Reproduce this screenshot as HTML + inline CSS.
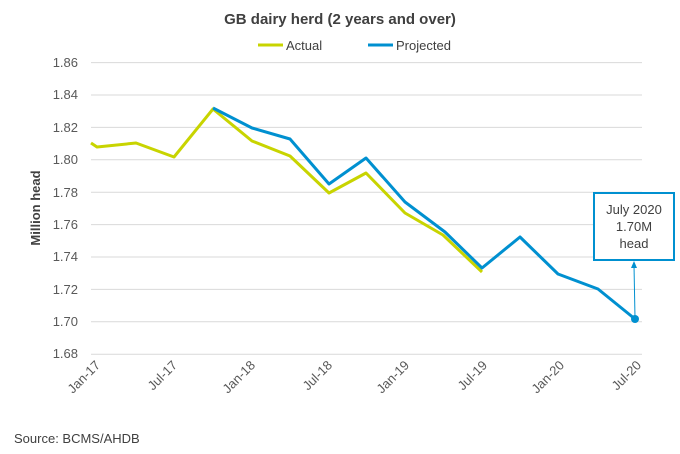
<!DOCTYPE html>
<html><head><meta charset="utf-8"><style>
html,body{margin:0;padding:0;background:#fff}
svg{display:block;font-family:"Liberation Sans",Arial,sans-serif}
</style></head><body>
<svg width="680" height="454" viewBox="0 0 680 454">
<text x="340" y="24" text-anchor="middle" font-size="15" font-weight="bold" fill="#404040">GB dairy herd (2 years and over)</text>
<line x1="258" y1="45" x2="283" y2="45" stroke="#c8d400" stroke-width="3"/>
<text x="286" y="50" font-size="13" fill="#404040">Actual</text>
<line x1="368" y1="45" x2="393" y2="45" stroke="#0090d0" stroke-width="3"/>
<text x="396" y="50" font-size="13" fill="#404040">Projected</text>
<g stroke="#d9d9d9" stroke-width="1">
<line x1="91" y1="62.6" x2="642" y2="62.6"/><line x1="91" y1="95" x2="642" y2="95"/>
<line x1="91" y1="127.4" x2="642" y2="127.4"/><line x1="91" y1="159.8" x2="642" y2="159.8"/>
<line x1="91" y1="192.2" x2="642" y2="192.2"/><line x1="91" y1="224.6" x2="642" y2="224.6"/>
<line x1="91" y1="257" x2="642" y2="257"/><line x1="91" y1="289.4" x2="642" y2="289.4"/>
<line x1="91" y1="321.8" x2="642" y2="321.8"/><line x1="91" y1="354.2" x2="642" y2="354.2"/>
</g>
<g font-size="13" fill="#595959" text-anchor="end">
<text x="78" y="67">1.86</text><text x="78" y="99">1.84</text><text x="78" y="132">1.82</text>
<text x="78" y="164">1.80</text><text x="78" y="197">1.78</text><text x="78" y="229">1.76</text>
<text x="78" y="261">1.74</text><text x="78" y="294">1.72</text><text x="78" y="326">1.70</text>
<text x="78" y="358">1.68</text>
</g>
<text transform="translate(40,208) rotate(-90)" text-anchor="middle" font-size="13" font-weight="bold" fill="#404040">Million head</text>
<g font-size="13" fill="#595959" text-anchor="end">
<text transform="translate(101,366) rotate(-45)">Jan-17</text>
<text transform="translate(178,366) rotate(-45)">Jul-17</text>
<text transform="translate(256,366) rotate(-45)">Jan-18</text>
<text transform="translate(333,366) rotate(-45)">Jul-18</text>
<text transform="translate(410,366) rotate(-45)">Jan-19</text>
<text transform="translate(488,366) rotate(-45)">Jul-19</text>
<text transform="translate(565,366) rotate(-45)">Jan-20</text>
<text transform="translate(642,366) rotate(-45)">Jul-20</text>
</g>
<polyline fill="none" stroke="#c8d400" stroke-width="3" stroke-linejoin="round" points="91,143 97,147 136,143 174,157 213,109 252,141 290,156 329,193 366,173 405,213 443,235 482,272"/>
<polyline fill="none" stroke="#0090d0" stroke-width="3" stroke-linejoin="round" points="213,108 252,128 290,139 329,184 366,158 405,202 445,232 482,268 520,237 558,274 598,289 635,319"/>
<circle cx="635" cy="319" r="4" fill="#0090d0"/>
<line x1="635" y1="318" x2="634" y2="265" stroke="#0090d0" stroke-width="1"/>
<polygon points="634,261 631,268 637,268" fill="#0090d0"/>
<rect x="594" y="193" width="80" height="67" fill="#fff" stroke="#0090d0" stroke-width="2"/>
<g font-size="13" fill="#404040" text-anchor="middle">
<text x="634" y="214">July 2020</text><text x="634" y="231">1.70M</text><text x="634" y="248">head</text>
</g>
<text x="14" y="443" font-size="13" fill="#404040">Source: BCMS/AHDB</text>
</svg>
</body></html>
